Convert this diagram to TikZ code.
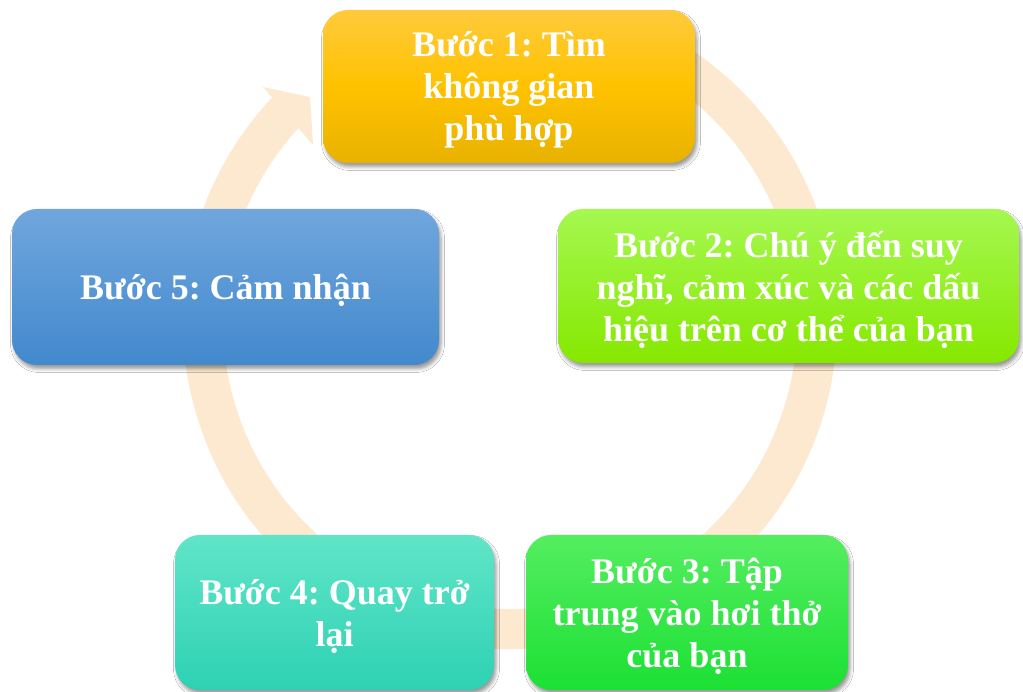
\documentclass[tikz,border=0pt]{standalone}
\usepackage{fontspec}
\setmainfont{Liberation Serif}
\usetikzlibrary{shadows.blur}

\definecolor{ringpeach}{RGB}{253,233,208}
\definecolor{yelTop}{RGB}{255,202,60}
\definecolor{yelMid}{RGB}{255,194,0}
\definecolor{yelBot}{RGB}{232,178,0}
\definecolor{limeTop}{RGB}{165,248,80}
\definecolor{limeBot}{RGB}{134,232,0}
\definecolor{grnTop}{RGB}{84,238,96}
\definecolor{grnBot}{RGB}{28,224,52}
\definecolor{tealTop}{RGB}{96,229,200}
\definecolor{tealBot}{RGB}{46,209,180}
\definecolor{bluTop}{RGB}{112,166,221}
\definecolor{bluBot}{RGB}{66,137,205}

\tikzset{
  stepbox/.style={
    rounded corners=25pt, inner sep=0pt, align=center, text=white,
    font=\fontsize{36}{42}\selectfont\bfseries\frenchspacing,
    text depth=0pt,
    blur shadow={shadow xshift=2pt, shadow yshift=-4pt,
                 shadow blur radius=3.5pt, shadow opacity=40}},
  ringband/.style={draw=ringpeach, line width=40pt},
}

\begin{document}
\begin{tikzpicture}[x=1pt,y=1pt]
\useasboundingbox (0,0) rectangle (1023,692);
\fill[white] (0,0) rectangle (1023,692);

% circular arrow running clockwise behind the steps
\coordinate (ctr) at (510,370);
\draw[ringband] ([shift={(68:307)}]ctr) arc[start angle=68, end angle=-223.5, radius=307];
\fill[ringpeach] (263,605) -- (310,595) -- (313,547) -- cycle;

% the five steps
\node[stepbox, minimum width=372pt, minimum height=153pt,
      top color=yelTop, bottom color=yelBot, middle color=yelMid]
  (s1) at (509,605.5) {Bước 1: Tìm\\không gian\\phù hợp};
\node[stepbox, minimum width=461pt, minimum height=154pt,
      top color=limeTop, bottom color=limeBot]
  (s2) at (788.5,406) {Bước 2: Chú ý đến suy\\nghĩ, cảm xúc và các dấu\\hiệu trên cơ thể của bạn};
\node[stepbox, minimum width=322pt, minimum height=155pt,
      top color=grnTop, bottom color=grnBot]
  (s3) at (687,79.5) {Bước 3: Tập\\trung vào hơi thở\\của bạn};
\node[stepbox, minimum width=319pt, minimum height=155pt,
      top color=tealTop, bottom color=tealBot]
  (s4) at (334.5,79.5) {Bước 4: Quay trở\\lại};
\node[stepbox, minimum width=427pt, minimum height=156pt,
      top color=bluTop, bottom color=bluBot]
  (s5) at (225.5,405) {Bước 5: Cảm nhận};
\end{tikzpicture}
\end{document}
